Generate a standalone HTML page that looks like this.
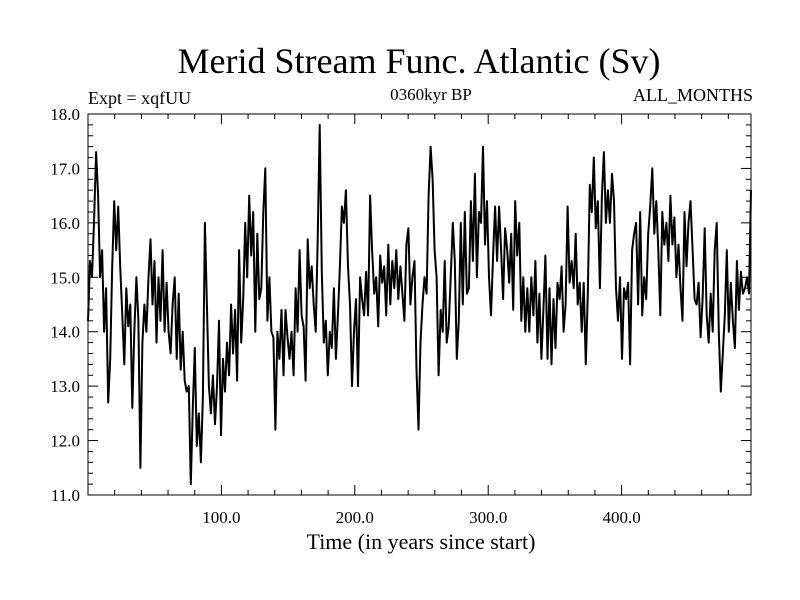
<!DOCTYPE html>
<html><head><meta charset="utf-8"><style>
body{margin:0;background:#fff;width:800px;height:600px;overflow:hidden}
svg{display:block;font-family:"Liberation Serif",serif}
</style></head><body>
<svg id="chart" width="800" height="600" xmlns="http://www.w3.org/2000/svg">
<text x="419" y="73" font-size="36" text-anchor="middle">Merid Stream Func. Atlantic (Sv)</text>
<text x="88" y="104" font-size="18">Expt = xqfUU</text>
<text x="431" y="100" font-size="17" text-anchor="middle">0360kyr BP</text>
<text x="753" y="101" font-size="18" text-anchor="end">ALL_MONTHS</text>
<text x="421" y="549" font-size="22" text-anchor="middle">Time (in years since start)</text>
<g id="axes"></g>
<path id="series" fill="none" stroke="#000" stroke-width="2" stroke-linejoin="round"/>
</svg>
<script>
const yTicks = [11.0,12.0,13.0,14.0,15.0,16.0,17.0,18.0];
const xTicks = [100,200,300,400];
const xDomain = [0,497];
const yDomain = [11,18];
const values = [14.2,15.3,15.0,16.0,17.3,16.5,15.0,15.5,14.0,14.8,12.7,13.5,15.2,16.4,15.5,16.3,15.2,14.3,13.4,14.8,14.1,14.5,12.6,14.0,15.0,14.2,11.5,13.8,14.5,14.0,15.0,15.7,14.5,15.3,13.8,15.0,14.2,15.5,14.0,14.9,14.0,13.6,14.5,15.0,13.5,14.7,13.3,14.0,13.1,12.9,13.0,11.2,12.6,13.7,11.9,12.5,11.6,12.8,16.0,14.5,13.0,12.5,13.2,12.3,13.0,14.2,12.1,13.5,12.9,13.8,13.2,14.5,13.6,14.4,13.1,15.5,13.8,14.6,16.0,15.0,16.5,15.4,16.2,14.0,15.8,14.6,14.8,16.2,17.0,14.2,15.0,14.0,13.9,12.2,14.0,13.5,14.4,13.2,14.4,13.9,13.5,14.0,13.2,14.8,14.0,15.5,14.3,14.1,13.1,15.7,14.8,15.2,14.5,14.0,15.7,17.8,15.1,13.8,14.2,13.2,14.0,13.7,14.8,13.5,14.3,15.2,16.3,16.0,16.6,15.2,14.5,13.0,14.0,14.6,13.0,15.0,14.6,14.3,15.1,14.3,16.5,15.5,14.7,15.0,14.1,15.4,14.9,15.2,14.3,15.6,14.5,15.3,14.8,15.5,14.6,15.2,14.7,14.2,15.6,15.9,14.5,15.0,15.3,13.3,12.2,13.8,14.5,15.0,14.7,16.5,17.4,16.8,15.5,15.0,13.2,14.4,14.0,15.3,13.8,14.1,15.0,16.0,15.3,13.5,14.2,16.0,14.5,16.2,14.7,14.8,16.4,15.3,16.9,15.0,16.2,16.0,17.4,15.6,16.4,15.0,14.3,15.4,16.3,15.3,16.3,15.5,14.6,15.9,15.5,14.9,15.8,14.4,16.4,15.4,16.0,14.2,15.0,14.0,14.8,14.0,15.0,14.3,15.3,13.8,14.7,13.5,14.4,15.4,13.5,14.8,13.4,14.6,13.7,14.9,14.6,15.2,14.0,14.5,16.3,14.9,15.3,14.8,15.8,14.5,14.9,14.0,14.9,13.4,14.7,16.7,16.2,17.2,15.9,16.4,14.8,16.5,17.3,16.0,16.6,16.0,16.9,16.4,14.8,14.2,15.0,13.5,14.8,14.6,14.9,13.4,15.5,15.8,16.0,14.5,16.2,14.3,15.0,14.6,15.8,16.3,17.0,15.8,16.4,15.5,14.3,16.2,15.6,16.0,15.3,16.5,15.6,16.1,15.0,15.6,14.8,14.2,16.2,15.2,16.0,16.4,15.5,14.6,14.5,14.9,13.9,14.6,15.9,14.3,13.8,14.7,14.0,15.5,16.0,14.0,12.9,13.6,14.3,15.5,14.0,14.9,14.2,13.7,15.3,14.4,15.1,14.7,14.8,15.0,14.7,16.6];

const L=88,R=751,T=114,B=495;
const sx=v=>L+(v-xDomain[0])/(xDomain[1]-xDomain[0])*(R-L);
const sy=v=>B-(v-yDomain[0])/(yDomain[1]-yDomain[0])*(B-T);
const NS="http://www.w3.org/2000/svg";
const ax=document.getElementById('axes');
function line(x1,y1,x2,y2,name){const l=document.createElementNS(NS,'line');
l.setAttribute('x1',x1);l.setAttribute('y1',y1);l.setAttribute('x2',x2);l.setAttribute('y2',y2);
l.setAttribute('stroke','#000');l.setAttribute('stroke-width','1');


ax.appendChild(l);}
function text(x,y,s,anchor,name){const t=document.createElementNS(NS,'text');
t.setAttribute('x',x);t.setAttribute('y',y);t.setAttribute('font-size','17');t.setAttribute('text-anchor',anchor);t.textContent=s;


ax.appendChild(t);}
const frame=document.createElementNS(NS,'rect');
frame.setAttribute('x',L);frame.setAttribute('y',T);frame.setAttribute('width',R-L);frame.setAttribute('height',B-T);
frame.setAttribute('fill','none');frame.setAttribute('stroke','#000');


ax.appendChild(frame);
for(let v=yDomain[0];v<=yDomain[1]+1e-6;v+=0.2){const y=sy(v);const maj=Math.abs(v-Math.round(v))<1e-6;const len=maj?10:5;
line(L,y,L+len,y,'y-tick');line(R,y,R-len,y,'y-tick-right');}
yTicks.forEach(v=>text(80,sy(v)+6,v.toFixed(1),'end','y-tick-label'));
for(let v=20;v<=xDomain[1];v+=20){const x=sx(v);const len=(v%100===0)?10:5;
line(x,B,x,B-len,'x-tick');line(x,T,x,T+len,'x-tick-top');}
xTicks.forEach(v=>text(sx(v),523,v.toFixed(1),'middle','x-tick-label'));
let d='';values.forEach((v,i)=>{const yr=i*(xDomain[1]/(values.length-1));d+=(i?'L':'M')+sx(yr).toFixed(1)+','+sy(v).toFixed(1);});
document.getElementById('series').setAttribute('d',d);
</script>
</body></html>
